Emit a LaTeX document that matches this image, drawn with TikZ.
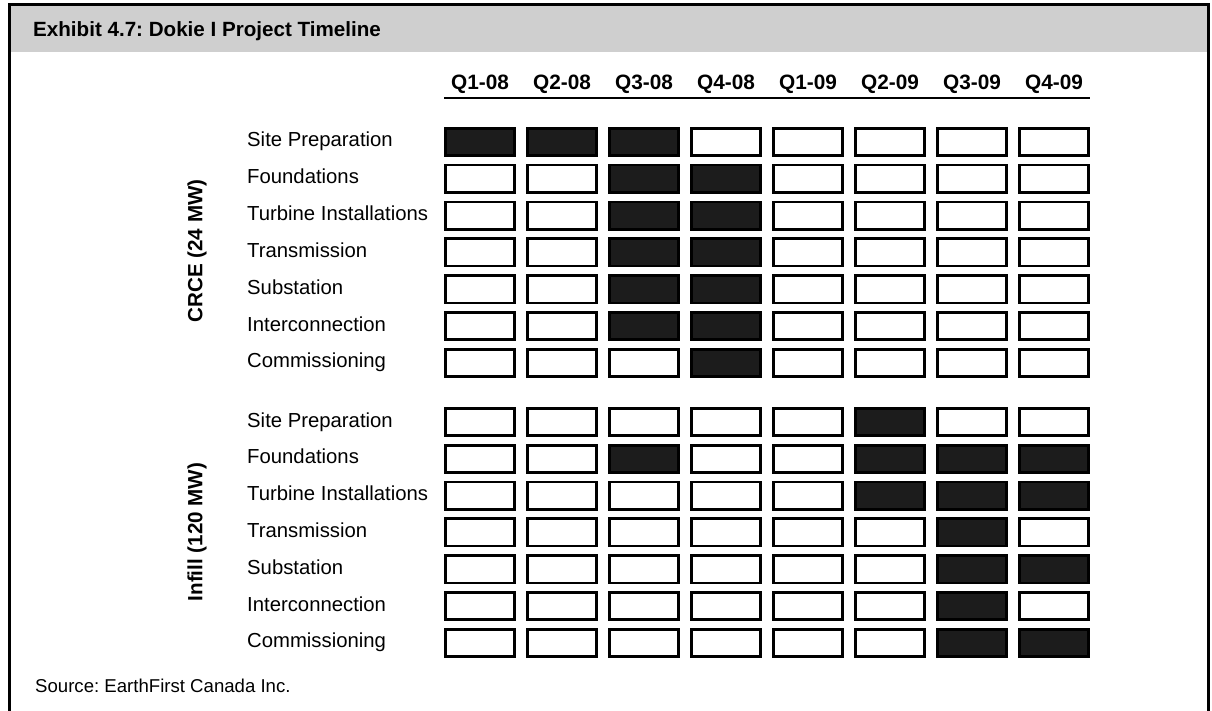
\documentclass[tikz,border=0pt]{standalone}
\usepackage{fontspec}
\setmainfont{Liberation Sans}
\definecolor{band}{HTML}{CFCFCF}
\definecolor{bar}{HTML}{1C1C1C}
\begin{document}
\frenchspacing
\begin{tikzpicture}[x=1pt,y=-1pt,
  cell/.style={draw=black,line width=2.7pt,minimum width=69.3pt,minimum height=27.3pt,inner sep=0pt,fill=white},
  s0/.style={cell},
  s1/.style={cell,fill=bar},
  task/.style={anchor=base west,inner sep=0pt,font=\fontsize{20.3}{24}\selectfont},
  qlab/.style={anchor=base,inner sep=0pt,font=\bfseries\fontsize{20.8}{24}\selectfont},
  group/.style={rotate=90,inner sep=0pt,font=\bfseries\fontsize{20.6}{24}\selectfont},
  frame/.style={line width=3pt}]
\useasboundingbox (0,0) rectangle (1212,711);
\fill[band] (9.5,4.5) rectangle (1208,52);
\draw[frame] (9.5,711) -- (9.5,4.5) -- (1208,4.5) -- (1208,711);
\node[anchor=base west,inner sep=0pt,font=\bfseries\fontsize{20.6}{24}\selectfont] (title) at (33,37) {Exhibit 4.7: Dokie I Project Timeline};
% quarter headers
\foreach \q [count=\i from 0] in {Q1-08,Q2-08,Q3-08,Q4-08,Q1-09,Q2-09,Q3-09,Q4-09}
  \node[qlab] (q\i) at ({480+82*\i},90) {\q};
\coordinate (ul0) at (444,98);
\coordinate (ul1) at (1090,98);
\draw[line width=2pt] (ul0) -- (ul1);
% task labels
\foreach \t [count=\r from 0] in {Site Preparation,Foundations,Turbine Installations,Transmission,Substation,Interconnection,Commissioning}{
  \node[task] (la\r) at (247,{127+36.8*\r+20}) {\t};
  \node[task] (lb\r) at (247,{407+36.8*\r+20}) {\t};
}
% CRCE cells
\foreach \pat [count=\r from 0] in {{1,1,1,0,0,0,0,0},{0,0,1,1,0,0,0,0},{0,0,1,1,0,0,0,0},{0,0,1,1,0,0,0,0},{0,0,1,1,0,0,0,0},{0,0,1,1,0,0,0,0},{0,0,0,1,0,0,0,0}}
  \foreach \v [count=\c from 0] in \pat
    \node[s\v] (a-\r-\c) at ({480+82*\c},{127+36.8*\r+15}) {};
% Infill cells
\foreach \pat [count=\r from 0] in {{0,0,0,0,0,1,0,0},{0,0,1,0,0,1,1,1},{0,0,0,0,0,1,1,1},{0,0,0,0,0,0,1,0},{0,0,0,0,0,0,1,1},{0,0,0,0,0,0,1,0},{0,0,0,0,0,0,1,1}}
  \foreach \v [count=\c from 0] in \pat
    \node[s\v] (b-\r-\c) at ({480+82*\c},{407+36.8*\r+15}) {};
% group labels
\node[group] (crce) at (197,251) {CRCE (24 MW)};
\node[group] (infill) at (197,532) {Infill (120 MW)};
% source
\node[anchor=base west,inner sep=0pt,font=\fontsize{18.6}{22}\selectfont] (src) at (35,692) {Source: EarthFirst Canada Inc.};
\end{tikzpicture}
\end{document}
